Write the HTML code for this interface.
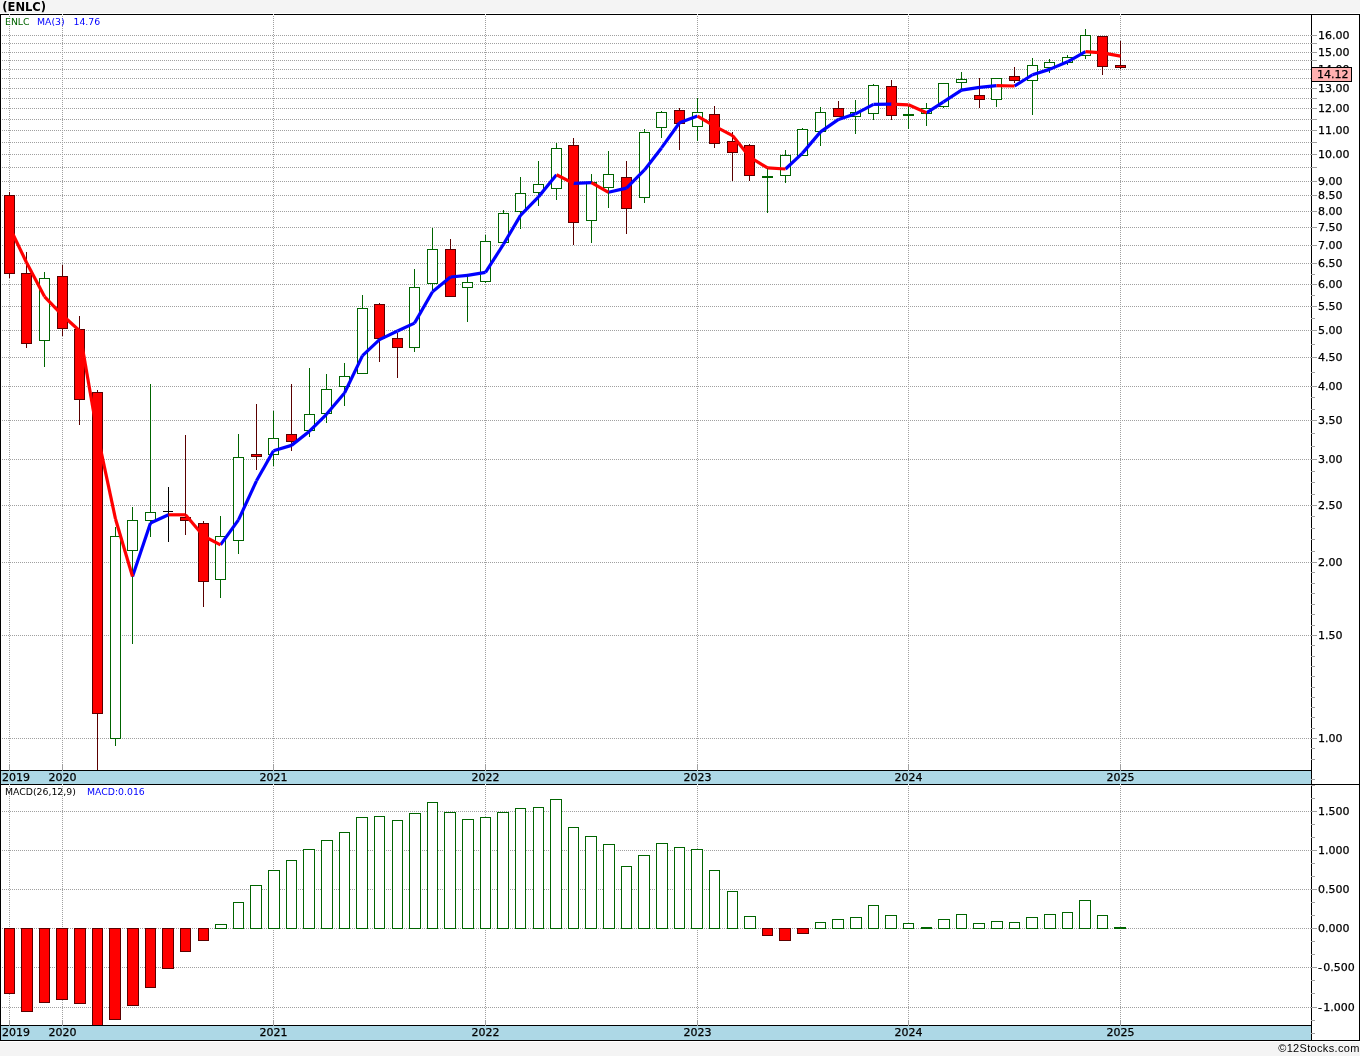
<!DOCTYPE html>
<html lang="en"><head><meta charset="utf-8"><title>(ENLC)</title>
<style>html,body{margin:0;padding:0;background:#f4f4f4}body{width:1360px;height:1056px;overflow:hidden}</style></head>
<body>
<svg width="1360" height="1056" viewBox="0 0 1360 1056" style="display:block">
<rect width="1360" height="1056" fill="#f4f4f4"/>
<rect x="0" y="13" width="1360" height="1029" fill="#fff"/>
<rect x="1" y="771" width="1310" height="13" fill="#add8e6"/>
<rect x="1" y="1026" width="1310" height="14" fill="#add8e6"/>
<g stroke="#a0a0a0" stroke-width="1" stroke-dasharray="1 1" shape-rendering="crispEdges" fill="none">
<line x1="2" y1="35.5" x2="1311" y2="35.5"/>
<line x1="2" y1="43.5" x2="1311" y2="43.5"/>
<line x1="2" y1="52.5" x2="1311" y2="52.5"/>
<line x1="2" y1="60.5" x2="1311" y2="60.5"/>
<line x1="2" y1="69.5" x2="1311" y2="69.5"/>
<line x1="2" y1="78.5" x2="1311" y2="78.5"/>
<line x1="2" y1="88.5" x2="1311" y2="88.5"/>
<line x1="2" y1="98.5" x2="1311" y2="98.5"/>
<line x1="2" y1="108.5" x2="1311" y2="108.5"/>
<line x1="2" y1="119.5" x2="1311" y2="119.5"/>
<line x1="2" y1="130.5" x2="1311" y2="130.5"/>
<line x1="2" y1="142.5" x2="1311" y2="142.5"/>
<line x1="2" y1="154.5" x2="1311" y2="154.5"/>
<line x1="2" y1="167.5" x2="1311" y2="167.5"/>
<line x1="2" y1="181.5" x2="1311" y2="181.5"/>
<line x1="2" y1="195.5" x2="1311" y2="195.5"/>
<line x1="2" y1="211.5" x2="1311" y2="211.5"/>
<line x1="2" y1="227.5" x2="1311" y2="227.5"/>
<line x1="2" y1="245.5" x2="1311" y2="245.5"/>
<line x1="2" y1="263.5" x2="1311" y2="263.5"/>
<line x1="2" y1="284.5" x2="1311" y2="284.5"/>
<line x1="2" y1="306.5" x2="1311" y2="306.5"/>
<line x1="2" y1="330.5" x2="1311" y2="330.5"/>
<line x1="2" y1="357.5" x2="1311" y2="357.5"/>
<line x1="2" y1="386.5" x2="1311" y2="386.5"/>
<line x1="2" y1="420.5" x2="1311" y2="420.5"/>
<line x1="2" y1="459.5" x2="1311" y2="459.5"/>
<line x1="2" y1="505.5" x2="1311" y2="505.5"/>
<line x1="2" y1="562.5" x2="1311" y2="562.5"/>
<line x1="2" y1="635.5" x2="1311" y2="635.5"/>
<line x1="2" y1="738.5" x2="1311" y2="738.5"/>
<line x1="2" y1="811.5" x2="1311" y2="811.5"/>
<line x1="2" y1="850.5" x2="1311" y2="850.5"/>
<line x1="2" y1="889.5" x2="1311" y2="889.5"/>
<line x1="2" y1="928.5" x2="1311" y2="928.5"/>
<line x1="2" y1="967.5" x2="1311" y2="967.5"/>
<line x1="2" y1="1007.5" x2="1311" y2="1007.5"/>
<line x1="9.5" y1="16" x2="9.5" y2="764"/>
<line x1="9.5" y1="786" x2="9.5" y2="1020"/>
<line x1="62.5" y1="16" x2="62.5" y2="764"/>
<line x1="62.5" y1="786" x2="62.5" y2="1020"/>
<line x1="273.5" y1="16" x2="273.5" y2="764"/>
<line x1="273.5" y1="786" x2="273.5" y2="1020"/>
<line x1="485.5" y1="16" x2="485.5" y2="764"/>
<line x1="485.5" y1="786" x2="485.5" y2="1020"/>
<line x1="697.5" y1="16" x2="697.5" y2="764"/>
<line x1="697.5" y1="786" x2="697.5" y2="1020"/>
<line x1="908.5" y1="16" x2="908.5" y2="764"/>
<line x1="908.5" y1="786" x2="908.5" y2="1020"/>
<line x1="1120.5" y1="16" x2="1120.5" y2="764"/>
<line x1="1120.5" y1="786" x2="1120.5" y2="1020"/>
</g>
<g shape-rendering="crispEdges" stroke-width="1">
<line x1="9.5" y1="192" x2="9.5" y2="278" stroke="#5a0000"/>
<rect x="4.5" y="195.5" width="10" height="78.0" fill="#ff0000" stroke="#5a0000"/>
<line x1="26.5" y1="252" x2="26.5" y2="348" stroke="#5a0000"/>
<rect x="21.5" y="273.5" width="10" height="70.0" fill="#ff0000" stroke="#5a0000"/>
<line x1="44.5" y1="272" x2="44.5" y2="367" stroke="#006400"/>
<rect x="39.5" y="278.5" width="10" height="62.0" fill="#fff" stroke="#006400"/>
<line x1="62.5" y1="265" x2="62.5" y2="336" stroke="#5a0000"/>
<rect x="57.5" y="276.5" width="10" height="52.0" fill="#ff0000" stroke="#5a0000"/>
<line x1="79.5" y1="316" x2="79.5" y2="425" stroke="#5a0000"/>
<rect x="74.5" y="329.5" width="10" height="70.0" fill="#ff0000" stroke="#5a0000"/>
<line x1="97.5" y1="390" x2="97.5" y2="770" stroke="#5a0000"/>
<rect x="92.5" y="392.5" width="10" height="321.0" fill="#ff0000" stroke="#5a0000"/>
<line x1="115.5" y1="527" x2="115.5" y2="746" stroke="#006400"/>
<rect x="110.5" y="536.5" width="10" height="202.0" fill="#fff" stroke="#006400"/>
<line x1="132.5" y1="507" x2="132.5" y2="644" stroke="#006400"/>
<rect x="127.5" y="520.5" width="10" height="30.0" fill="#fff" stroke="#006400"/>
<line x1="150.5" y1="384" x2="150.5" y2="537" stroke="#006400"/>
<rect x="145.5" y="512.5" width="10" height="8.0" fill="#fff" stroke="#006400"/>
<line x1="168.5" y1="487" x2="168.5" y2="542" stroke="#000"/>
<line x1="163.0" y1="511.5" x2="173.0" y2="511.5" stroke="#000"/>
<line x1="185.5" y1="435" x2="185.5" y2="535" stroke="#5a0000"/>
<rect x="180.5" y="517.5" width="10" height="3.0" fill="#ff0000" stroke="#5a0000"/>
<line x1="203.5" y1="521" x2="203.5" y2="607" stroke="#5a0000"/>
<rect x="198.5" y="523.5" width="10" height="58.0" fill="#ff0000" stroke="#5a0000"/>
<line x1="220.5" y1="516" x2="220.5" y2="598" stroke="#006400"/>
<rect x="215.5" y="536.5" width="10" height="43.0" fill="#fff" stroke="#006400"/>
<line x1="238.5" y1="434" x2="238.5" y2="554" stroke="#006400"/>
<rect x="233.5" y="457.5" width="10" height="83.0" fill="#fff" stroke="#006400"/>
<line x1="256.5" y1="404" x2="256.5" y2="470" stroke="#5a0000"/>
<rect x="251.5" y="454.5" width="10" height="2.0" fill="#ff0000" stroke="#5a0000"/>
<line x1="273.5" y1="411" x2="273.5" y2="466" stroke="#006400"/>
<rect x="268.5" y="438.5" width="10" height="16.0" fill="#fff" stroke="#006400"/>
<line x1="291.5" y1="384" x2="291.5" y2="451" stroke="#5a0000"/>
<rect x="286.5" y="434.5" width="10" height="7.0" fill="#ff0000" stroke="#5a0000"/>
<line x1="309.5" y1="368" x2="309.5" y2="437" stroke="#006400"/>
<rect x="304.5" y="414.5" width="10" height="16.0" fill="#fff" stroke="#006400"/>
<line x1="326.5" y1="374" x2="326.5" y2="423" stroke="#006400"/>
<rect x="321.5" y="389.5" width="10" height="24.0" fill="#fff" stroke="#006400"/>
<line x1="344.5" y1="363" x2="344.5" y2="406" stroke="#006400"/>
<rect x="339.5" y="376.5" width="10" height="10.0" fill="#fff" stroke="#006400"/>
<line x1="362.5" y1="295" x2="362.5" y2="373" stroke="#006400"/>
<rect x="357.5" y="308.5" width="10" height="65.0" fill="#fff" stroke="#006400"/>
<line x1="379.5" y1="303" x2="379.5" y2="362" stroke="#5a0000"/>
<rect x="374.5" y="304.5" width="10" height="34.0" fill="#ff0000" stroke="#5a0000"/>
<line x1="397.5" y1="333" x2="397.5" y2="378" stroke="#5a0000"/>
<rect x="392.5" y="338.5" width="10" height="9.0" fill="#ff0000" stroke="#5a0000"/>
<line x1="414.5" y1="269" x2="414.5" y2="352" stroke="#006400"/>
<rect x="409.5" y="287.5" width="10" height="60.0" fill="#fff" stroke="#006400"/>
<line x1="432.5" y1="228" x2="432.5" y2="290" stroke="#006400"/>
<rect x="427.5" y="249.5" width="10" height="34.0" fill="#fff" stroke="#006400"/>
<line x1="450.5" y1="239" x2="450.5" y2="297" stroke="#5a0000"/>
<rect x="445.5" y="249.5" width="10" height="47.0" fill="#ff0000" stroke="#5a0000"/>
<line x1="467.5" y1="274" x2="467.5" y2="322" stroke="#006400"/>
<rect x="462.5" y="282.5" width="10" height="5.0" fill="#fff" stroke="#006400"/>
<line x1="485.5" y1="235" x2="485.5" y2="283" stroke="#006400"/>
<rect x="480.5" y="241.5" width="10" height="40.0" fill="#fff" stroke="#006400"/>
<line x1="503.5" y1="210" x2="503.5" y2="243" stroke="#006400"/>
<rect x="498.5" y="213.5" width="10" height="29.0" fill="#fff" stroke="#006400"/>
<line x1="520.5" y1="177" x2="520.5" y2="229" stroke="#006400"/>
<rect x="515.5" y="193.5" width="10" height="18.0" fill="#fff" stroke="#006400"/>
<line x1="538.5" y1="161" x2="538.5" y2="206" stroke="#006400"/>
<rect x="533.5" y="184.5" width="10" height="8.0" fill="#fff" stroke="#006400"/>
<line x1="556.5" y1="143" x2="556.5" y2="200" stroke="#006400"/>
<rect x="551.5" y="148.5" width="10" height="40.0" fill="#fff" stroke="#006400"/>
<line x1="573.5" y1="138" x2="573.5" y2="245" stroke="#5a0000"/>
<rect x="568.5" y="145.5" width="10" height="77.0" fill="#ff0000" stroke="#5a0000"/>
<line x1="591.5" y1="174" x2="591.5" y2="243" stroke="#006400"/>
<rect x="586.5" y="182.5" width="10" height="38.0" fill="#fff" stroke="#006400"/>
<line x1="608.5" y1="151" x2="608.5" y2="208" stroke="#006400"/>
<rect x="603.5" y="174.5" width="10" height="13.0" fill="#fff" stroke="#006400"/>
<line x1="626.5" y1="161" x2="626.5" y2="234" stroke="#5a0000"/>
<rect x="621.5" y="177.5" width="10" height="31.0" fill="#ff0000" stroke="#5a0000"/>
<line x1="644.5" y1="129" x2="644.5" y2="203" stroke="#006400"/>
<rect x="639.5" y="132.5" width="10" height="65.0" fill="#fff" stroke="#006400"/>
<line x1="661.5" y1="111" x2="661.5" y2="138" stroke="#006400"/>
<rect x="656.5" y="112.5" width="10" height="15.0" fill="#fff" stroke="#006400"/>
<line x1="679.5" y1="108" x2="679.5" y2="150" stroke="#5a0000"/>
<rect x="674.5" y="110.5" width="10" height="13.0" fill="#ff0000" stroke="#5a0000"/>
<line x1="697.5" y1="98" x2="697.5" y2="141" stroke="#006400"/>
<rect x="692.5" y="112.5" width="10" height="14.0" fill="#fff" stroke="#006400"/>
<line x1="714.5" y1="106" x2="714.5" y2="148" stroke="#5a0000"/>
<rect x="709.5" y="114.5" width="10" height="29.0" fill="#ff0000" stroke="#5a0000"/>
<line x1="732.5" y1="132" x2="732.5" y2="181" stroke="#5a0000"/>
<rect x="727.5" y="141.5" width="10" height="11.0" fill="#ff0000" stroke="#5a0000"/>
<line x1="749.5" y1="144" x2="749.5" y2="181" stroke="#5a0000"/>
<rect x="744.5" y="145.5" width="10" height="30.0" fill="#ff0000" stroke="#5a0000"/>
<line x1="767.5" y1="168" x2="767.5" y2="213" stroke="#006400"/>
<rect x="762.5" y="176.5" width="10" height="1.0" fill="#fff" stroke="#006400"/>
<line x1="785.5" y1="150" x2="785.5" y2="183" stroke="#006400"/>
<rect x="780.5" y="155.5" width="10" height="20.0" fill="#fff" stroke="#006400"/>
<line x1="802.5" y1="128" x2="802.5" y2="156" stroke="#006400"/>
<rect x="797.5" y="129.5" width="10" height="26.0" fill="#fff" stroke="#006400"/>
<line x1="820.5" y1="107" x2="820.5" y2="146" stroke="#006400"/>
<rect x="815.5" y="112.5" width="10" height="19.0" fill="#fff" stroke="#006400"/>
<line x1="838.5" y1="101" x2="838.5" y2="117" stroke="#5a0000"/>
<rect x="833.5" y="108.5" width="10" height="8.0" fill="#ff0000" stroke="#5a0000"/>
<line x1="855.5" y1="100" x2="855.5" y2="134" stroke="#006400"/>
<rect x="850.5" y="112.5" width="10" height="4.0" fill="#fff" stroke="#006400"/>
<line x1="873.5" y1="84" x2="873.5" y2="120" stroke="#006400"/>
<rect x="868.5" y="85.5" width="10" height="28.0" fill="#fff" stroke="#006400"/>
<line x1="891.5" y1="80" x2="891.5" y2="120" stroke="#5a0000"/>
<rect x="886.5" y="86.5" width="10" height="29.0" fill="#ff0000" stroke="#5a0000"/>
<line x1="908.5" y1="106" x2="908.5" y2="129" stroke="#006400"/>
<rect x="903.5" y="114.5" width="10" height="1.0" fill="#fff" stroke="#006400"/>
<line x1="926.5" y1="103" x2="926.5" y2="126" stroke="#006400"/>
<rect x="921.5" y="108.5" width="10" height="5.0" fill="#fff" stroke="#006400"/>
<line x1="943.5" y1="84" x2="943.5" y2="108" stroke="#006400"/>
<rect x="938.5" y="83.5" width="10" height="23.0" fill="#fff" stroke="#006400"/>
<line x1="961.5" y1="72" x2="961.5" y2="90" stroke="#006400"/>
<rect x="956.5" y="79.5" width="10" height="3.0" fill="#fff" stroke="#006400"/>
<line x1="979.5" y1="78" x2="979.5" y2="108" stroke="#5a0000"/>
<rect x="974.5" y="95.5" width="10" height="4.0" fill="#ff0000" stroke="#5a0000"/>
<line x1="996.5" y1="79" x2="996.5" y2="107" stroke="#006400"/>
<rect x="991.5" y="78.5" width="10" height="21.0" fill="#fff" stroke="#006400"/>
<line x1="1014.5" y1="67" x2="1014.5" y2="83" stroke="#5a0000"/>
<rect x="1009.5" y="76.5" width="10" height="4.0" fill="#ff0000" stroke="#5a0000"/>
<line x1="1032.5" y1="58" x2="1032.5" y2="115" stroke="#006400"/>
<rect x="1027.5" y="65.5" width="10" height="15.0" fill="#fff" stroke="#006400"/>
<line x1="1049.5" y1="59" x2="1049.5" y2="73" stroke="#006400"/>
<rect x="1044.5" y="62.5" width="10" height="5.0" fill="#fff" stroke="#006400"/>
<line x1="1067.5" y1="55" x2="1067.5" y2="65" stroke="#006400"/>
<rect x="1062.5" y="57.5" width="10" height="5.0" fill="#fff" stroke="#006400"/>
<line x1="1085.5" y1="29" x2="1085.5" y2="59" stroke="#006400"/>
<rect x="1080.5" y="35.5" width="10" height="20.0" fill="#fff" stroke="#006400"/>
<line x1="1102.5" y1="37" x2="1102.5" y2="75" stroke="#5a0000"/>
<rect x="1097.5" y="36.5" width="10" height="30.0" fill="#ff0000" stroke="#5a0000"/>
<line x1="1120.5" y1="41" x2="1120.5" y2="69" stroke="#5a0000"/>
<rect x="1115.5" y="65.5" width="10" height="2.0" fill="#ff0000" stroke="#5a0000"/>
</g>
<g shape-rendering="crispEdges" stroke-width="1">
<rect x="4.5" y="928.5" width="10" height="65.0" fill="#ff0000" stroke="#5a0000"/>
<rect x="21.5" y="928.5" width="11" height="83.0" fill="#ff0000" stroke="#5a0000"/>
<rect x="39.5" y="928.5" width="10" height="74.0" fill="#ff0000" stroke="#5a0000"/>
<rect x="56.5" y="928.5" width="11" height="71.0" fill="#ff0000" stroke="#5a0000"/>
<rect x="74.5" y="928.5" width="11" height="75.0" fill="#ff0000" stroke="#5a0000"/>
<rect x="92.5" y="928.5" width="10" height="97.0" fill="#ff0000" stroke="#5a0000"/>
<rect x="109.5" y="928.5" width="11" height="91.0" fill="#ff0000" stroke="#5a0000"/>
<rect x="127.5" y="928.5" width="11" height="77.0" fill="#ff0000" stroke="#5a0000"/>
<rect x="145.5" y="928.5" width="10" height="59.0" fill="#ff0000" stroke="#5a0000"/>
<rect x="162.5" y="928.5" width="11" height="40.0" fill="#ff0000" stroke="#5a0000"/>
<rect x="180.5" y="928.5" width="10" height="23.0" fill="#ff0000" stroke="#5a0000"/>
<rect x="198.5" y="928.5" width="10" height="12.0" fill="#ff0000" stroke="#5a0000"/>
<rect x="215.5" y="924.5" width="11" height="4.0" fill="#fff" stroke="#006400"/>
<rect x="233.5" y="902.5" width="10" height="26.0" fill="#fff" stroke="#006400"/>
<rect x="250.5" y="885.5" width="11" height="43.0" fill="#fff" stroke="#006400"/>
<rect x="268.5" y="870.5" width="11" height="58.0" fill="#fff" stroke="#006400"/>
<rect x="286.5" y="860.5" width="10" height="68.0" fill="#fff" stroke="#006400"/>
<rect x="303.5" y="849.5" width="11" height="79.0" fill="#fff" stroke="#006400"/>
<rect x="321.5" y="840.5" width="11" height="88.0" fill="#fff" stroke="#006400"/>
<rect x="339.5" y="832.5" width="10" height="96.0" fill="#fff" stroke="#006400"/>
<rect x="356.5" y="817.5" width="11" height="111.0" fill="#fff" stroke="#006400"/>
<rect x="374.5" y="816.5" width="10" height="112.0" fill="#fff" stroke="#006400"/>
<rect x="392.5" y="820.5" width="10" height="108.0" fill="#fff" stroke="#006400"/>
<rect x="409.5" y="813.5" width="11" height="115.0" fill="#fff" stroke="#006400"/>
<rect x="427.5" y="802.5" width="10" height="126.0" fill="#fff" stroke="#006400"/>
<rect x="444.5" y="812.5" width="11" height="116.0" fill="#fff" stroke="#006400"/>
<rect x="462.5" y="819.5" width="11" height="109.0" fill="#fff" stroke="#006400"/>
<rect x="480.5" y="817.5" width="10" height="111.0" fill="#fff" stroke="#006400"/>
<rect x="497.5" y="812.5" width="11" height="116.0" fill="#fff" stroke="#006400"/>
<rect x="515.5" y="808.5" width="10" height="120.0" fill="#fff" stroke="#006400"/>
<rect x="533.5" y="807.5" width="10" height="121.0" fill="#fff" stroke="#006400"/>
<rect x="550.5" y="799.5" width="11" height="129.0" fill="#fff" stroke="#006400"/>
<rect x="568.5" y="827.5" width="10" height="101.0" fill="#fff" stroke="#006400"/>
<rect x="585.5" y="836.5" width="11" height="92.0" fill="#fff" stroke="#006400"/>
<rect x="603.5" y="844.5" width="11" height="84.0" fill="#fff" stroke="#006400"/>
<rect x="621.5" y="866.5" width="10" height="62.0" fill="#fff" stroke="#006400"/>
<rect x="638.5" y="855.5" width="11" height="73.0" fill="#fff" stroke="#006400"/>
<rect x="656.5" y="843.5" width="11" height="85.0" fill="#fff" stroke="#006400"/>
<rect x="674.5" y="847.5" width="10" height="81.0" fill="#fff" stroke="#006400"/>
<rect x="691.5" y="849.5" width="11" height="79.0" fill="#fff" stroke="#006400"/>
<rect x="709.5" y="870.5" width="10" height="58.0" fill="#fff" stroke="#006400"/>
<rect x="727.5" y="891.5" width="10" height="37.0" fill="#fff" stroke="#006400"/>
<rect x="744.5" y="916.5" width="11" height="12.0" fill="#fff" stroke="#006400"/>
<rect x="762.5" y="928.5" width="10" height="7.0" fill="#ff0000" stroke="#5a0000"/>
<rect x="779.5" y="928.5" width="11" height="12.0" fill="#ff0000" stroke="#5a0000"/>
<rect x="797.5" y="928.5" width="11" height="5.0" fill="#ff0000" stroke="#5a0000"/>
<rect x="815.5" y="922.5" width="10" height="6.0" fill="#fff" stroke="#006400"/>
<rect x="832.5" y="919.5" width="11" height="9.0" fill="#fff" stroke="#006400"/>
<rect x="850.5" y="917.5" width="11" height="11.0" fill="#fff" stroke="#006400"/>
<rect x="868.5" y="905.5" width="10" height="23.0" fill="#fff" stroke="#006400"/>
<rect x="885.5" y="915.5" width="11" height="13.0" fill="#fff" stroke="#006400"/>
<rect x="903.5" y="923.5" width="10" height="5.0" fill="#fff" stroke="#006400"/>
<rect x="921" y="927.0" width="11" height="2" fill="#006400" stroke="none"/>
<rect x="938.5" y="919.5" width="11" height="9.0" fill="#fff" stroke="#006400"/>
<rect x="956.5" y="914.5" width="10" height="14.0" fill="#fff" stroke="#006400"/>
<rect x="973.5" y="923.5" width="11" height="5.0" fill="#fff" stroke="#006400"/>
<rect x="991.5" y="921.5" width="11" height="7.0" fill="#fff" stroke="#006400"/>
<rect x="1009.5" y="922.5" width="10" height="6.0" fill="#fff" stroke="#006400"/>
<rect x="1026.5" y="917.5" width="11" height="11.0" fill="#fff" stroke="#006400"/>
<rect x="1044.5" y="914.5" width="11" height="14.0" fill="#fff" stroke="#006400"/>
<rect x="1062.5" y="912.5" width="10" height="16.0" fill="#fff" stroke="#006400"/>
<rect x="1079.5" y="900.5" width="11" height="28.0" fill="#fff" stroke="#006400"/>
<rect x="1097.5" y="915.5" width="10" height="13.0" fill="#fff" stroke="#006400"/>
<rect x="1114" y="927.0" width="12" height="2" fill="#006400" stroke="none"/>
</g>
<g stroke-width="3.2" stroke-linecap="butt" fill="none">
<line x1="132.5" y1="576.44" x2="150.5" y2="522.97" stroke="#0000ff"/>
<line x1="150.5" y1="522.97" x2="168.5" y2="514.8" stroke="#0000ff"/>
<line x1="220.5" y1="544.87" x2="238.5" y2="519.9" stroke="#0000ff"/>
<line x1="238.5" y1="519.9" x2="256.5" y2="480.83" stroke="#0000ff"/>
<line x1="256.5" y1="480.83" x2="273.5" y2="450.68" stroke="#0000ff"/>
<line x1="273.5" y1="450.68" x2="291.5" y2="445.38" stroke="#0000ff"/>
<line x1="291.5" y1="445.38" x2="309.5" y2="431.21" stroke="#0000ff"/>
<line x1="309.5" y1="431.21" x2="326.5" y2="414.28" stroke="#0000ff"/>
<line x1="326.5" y1="414.28" x2="344.5" y2="393.01" stroke="#0000ff"/>
<line x1="344.5" y1="393.01" x2="362.5" y2="355.61" stroke="#0000ff"/>
<line x1="362.5" y1="355.61" x2="379.5" y2="339.65" stroke="#0000ff"/>
<line x1="379.5" y1="339.65" x2="397.5" y2="330.94" stroke="#0000ff"/>
<line x1="397.5" y1="330.94" x2="414.5" y2="323.09" stroke="#0000ff"/>
<line x1="414.5" y1="323.09" x2="432.5" y2="291.68" stroke="#0000ff"/>
<line x1="432.5" y1="291.68" x2="450.5" y2="277.0" stroke="#0000ff"/>
<line x1="450.5" y1="277.0" x2="467.5" y2="275.39" stroke="#0000ff"/>
<line x1="467.5" y1="275.39" x2="485.5" y2="272.41" stroke="#0000ff"/>
<line x1="485.5" y1="272.41" x2="503.5" y2="244.26" stroke="#0000ff"/>
<line x1="503.5" y1="244.26" x2="520.5" y2="215.41" stroke="#0000ff"/>
<line x1="520.5" y1="215.41" x2="538.5" y2="196.88" stroke="#0000ff"/>
<line x1="538.5" y1="196.88" x2="556.5" y2="174.74" stroke="#0000ff"/>
<line x1="573.5" y1="183.37" x2="591.5" y2="182.71" stroke="#0000ff"/>
<line x1="608.5" y1="192.31" x2="626.5" y2="188.09" stroke="#0000ff"/>
<line x1="626.5" y1="188.09" x2="644.5" y2="169.92" stroke="#0000ff"/>
<line x1="644.5" y1="169.92" x2="661.5" y2="147.91" stroke="#0000ff"/>
<line x1="661.5" y1="147.91" x2="679.5" y2="122.7" stroke="#0000ff"/>
<line x1="679.5" y1="122.7" x2="697.5" y2="116.11" stroke="#0000ff"/>
<line x1="785.5" y1="168.98" x2="802.5" y2="153.1" stroke="#0000ff"/>
<line x1="802.5" y1="153.1" x2="820.5" y2="131.89" stroke="#0000ff"/>
<line x1="820.5" y1="131.89" x2="838.5" y2="119.4" stroke="#0000ff"/>
<line x1="838.5" y1="119.4" x2="855.5" y2="113.83" stroke="#0000ff"/>
<line x1="855.5" y1="113.83" x2="873.5" y2="104.45" stroke="#0000ff"/>
<line x1="873.5" y1="104.45" x2="891.5" y2="104.14" stroke="#0000ff"/>
<line x1="926.5" y1="112.81" x2="943.5" y2="101.81" stroke="#0000ff"/>
<line x1="943.5" y1="101.81" x2="961.5" y2="90.18" stroke="#0000ff"/>
<line x1="961.5" y1="90.18" x2="979.5" y2="87.35" stroke="#0000ff"/>
<line x1="979.5" y1="87.35" x2="996.5" y2="85.65" stroke="#0000ff"/>
<line x1="1014.5" y1="85.99" x2="1032.5" y2="74.75" stroke="#0000ff"/>
<line x1="1032.5" y1="74.75" x2="1049.5" y2="69.38" stroke="#0000ff"/>
<line x1="1049.5" y1="69.38" x2="1067.5" y2="61.81" stroke="#0000ff"/>
<line x1="1067.5" y1="61.81" x2="1085.5" y2="51.56" stroke="#0000ff"/>
<line x1="9.5" y1="227" x2="26.5" y2="262.5" stroke="#ff0000"/>
<line x1="26.5" y1="262.5" x2="44.5" y2="296.56" stroke="#ff0000"/>
<line x1="44.5" y1="296.56" x2="62.5" y2="315.28" stroke="#ff0000"/>
<line x1="62.5" y1="315.28" x2="79.5" y2="330.72" stroke="#ff0000"/>
<line x1="79.5" y1="330.72" x2="97.5" y2="434.49" stroke="#ff0000"/>
<line x1="97.5" y1="434.49" x2="115.5" y2="519.0" stroke="#ff0000"/>
<line x1="115.5" y1="519.0" x2="132.5" y2="576.44" stroke="#ff0000"/>
<line x1="168.5" y1="514.8" x2="185.5" y2="514.8" stroke="#ff0000"/>
<line x1="185.5" y1="514.8" x2="203.5" y2="535.98" stroke="#ff0000"/>
<line x1="203.5" y1="535.98" x2="220.5" y2="544.87" stroke="#ff0000"/>
<line x1="556.5" y1="174.74" x2="573.5" y2="183.37" stroke="#ff0000"/>
<line x1="591.5" y1="182.71" x2="608.5" y2="192.31" stroke="#ff0000"/>
<line x1="697.5" y1="116.11" x2="714.5" y2="126.18" stroke="#ff0000"/>
<line x1="714.5" y1="126.18" x2="732.5" y2="135.58" stroke="#ff0000"/>
<line x1="732.5" y1="135.58" x2="749.5" y2="156.81" stroke="#ff0000"/>
<line x1="749.5" y1="156.81" x2="767.5" y2="167.92" stroke="#ff0000"/>
<line x1="767.5" y1="167.92" x2="785.5" y2="168.98" stroke="#ff0000"/>
<line x1="891.5" y1="104.14" x2="908.5" y2="104.78" stroke="#ff0000"/>
<line x1="908.5" y1="104.78" x2="926.5" y2="112.81" stroke="#ff0000"/>
<line x1="996.5" y1="85.65" x2="1014.5" y2="85.99" stroke="#ff0000"/>
<line x1="1085.5" y1="51.56" x2="1102.5" y2="52.83" stroke="#ff0000"/>
<line x1="1102.5" y1="52.83" x2="1120.5" y2="56.06" stroke="#ff0000" stroke-linecap="butt"/>
</g>
<g shape-rendering="crispEdges" fill="#000">
<rect x="0" y="14" width="1360" height="1"/>
<rect x="0" y="14" width="1" height="1027"/>
<rect x="1359" y="14" width="1" height="1027"/>
<rect x="0" y="1040" width="1360" height="1"/>
<rect x="0" y="770" width="1312" height="1"/>
<rect x="0" y="784" width="1360" height="1"/>
<rect x="0" y="1025" width="1312" height="1"/>
<rect x="1311" y="14" width="1" height="1027"/>
</g>
<g stroke="#a0a0a0" stroke-width="1" shape-rendering="crispEdges">
<line x1="9.5" y1="764" x2="9.5" y2="771"/>
<line x1="9.5" y1="1020" x2="9.5" y2="1026"/>
<line x1="9.5" y1="14" x2="9.5" y2="15" stroke="#e0e0e0"/>
<line x1="9.5" y1="784" x2="9.5" y2="785" stroke="#e0e0e0"/>
<line x1="62.5" y1="764" x2="62.5" y2="771"/>
<line x1="62.5" y1="1020" x2="62.5" y2="1026"/>
<line x1="62.5" y1="14" x2="62.5" y2="15" stroke="#e0e0e0"/>
<line x1="62.5" y1="784" x2="62.5" y2="785" stroke="#e0e0e0"/>
<line x1="273.5" y1="764" x2="273.5" y2="771"/>
<line x1="273.5" y1="1020" x2="273.5" y2="1026"/>
<line x1="273.5" y1="14" x2="273.5" y2="15" stroke="#e0e0e0"/>
<line x1="273.5" y1="784" x2="273.5" y2="785" stroke="#e0e0e0"/>
<line x1="485.5" y1="764" x2="485.5" y2="771"/>
<line x1="485.5" y1="1020" x2="485.5" y2="1026"/>
<line x1="485.5" y1="14" x2="485.5" y2="15" stroke="#e0e0e0"/>
<line x1="485.5" y1="784" x2="485.5" y2="785" stroke="#e0e0e0"/>
<line x1="697.5" y1="764" x2="697.5" y2="771"/>
<line x1="697.5" y1="1020" x2="697.5" y2="1026"/>
<line x1="697.5" y1="14" x2="697.5" y2="15" stroke="#e0e0e0"/>
<line x1="697.5" y1="784" x2="697.5" y2="785" stroke="#e0e0e0"/>
<line x1="908.5" y1="764" x2="908.5" y2="771"/>
<line x1="908.5" y1="1020" x2="908.5" y2="1026"/>
<line x1="908.5" y1="14" x2="908.5" y2="15" stroke="#e0e0e0"/>
<line x1="908.5" y1="784" x2="908.5" y2="785" stroke="#e0e0e0"/>
<line x1="1120.5" y1="764" x2="1120.5" y2="771"/>
<line x1="1120.5" y1="1020" x2="1120.5" y2="1026"/>
<line x1="1120.5" y1="14" x2="1120.5" y2="15" stroke="#e0e0e0"/>
<line x1="1120.5" y1="784" x2="1120.5" y2="785" stroke="#e0e0e0"/>
<line x1="1310" y1="35.5" x2="1317" y2="35.5"/>
<line x1="1310" y1="43.5" x2="1317" y2="43.5"/>
<line x1="1310" y1="52.5" x2="1317" y2="52.5"/>
<line x1="1310" y1="60.5" x2="1317" y2="60.5"/>
<line x1="1310" y1="69.5" x2="1317" y2="69.5"/>
<line x1="1310" y1="78.5" x2="1317" y2="78.5"/>
<line x1="1310" y1="88.5" x2="1317" y2="88.5"/>
<line x1="1310" y1="98.5" x2="1317" y2="98.5"/>
<line x1="1310" y1="108.5" x2="1317" y2="108.5"/>
<line x1="1310" y1="119.5" x2="1317" y2="119.5"/>
<line x1="1310" y1="130.5" x2="1317" y2="130.5"/>
<line x1="1310" y1="142.5" x2="1317" y2="142.5"/>
<line x1="1310" y1="154.5" x2="1317" y2="154.5"/>
<line x1="1310" y1="167.5" x2="1317" y2="167.5"/>
<line x1="1310" y1="181.5" x2="1317" y2="181.5"/>
<line x1="1310" y1="195.5" x2="1317" y2="195.5"/>
<line x1="1310" y1="211.5" x2="1317" y2="211.5"/>
<line x1="1310" y1="227.5" x2="1317" y2="227.5"/>
<line x1="1310" y1="245.5" x2="1317" y2="245.5"/>
<line x1="1310" y1="263.5" x2="1317" y2="263.5"/>
<line x1="1310" y1="284.5" x2="1317" y2="284.5"/>
<line x1="1310" y1="306.5" x2="1317" y2="306.5"/>
<line x1="1310" y1="330.5" x2="1317" y2="330.5"/>
<line x1="1310" y1="357.5" x2="1317" y2="357.5"/>
<line x1="1310" y1="386.5" x2="1317" y2="386.5"/>
<line x1="1310" y1="420.5" x2="1317" y2="420.5"/>
<line x1="1310" y1="459.5" x2="1317" y2="459.5"/>
<line x1="1310" y1="505.5" x2="1317" y2="505.5"/>
<line x1="1310" y1="562.5" x2="1317" y2="562.5"/>
<line x1="1310" y1="635.5" x2="1317" y2="635.5"/>
<line x1="1310" y1="738.5" x2="1317" y2="738.5"/>
<line x1="1311" y1="274.5" x2="1315" y2="274.5"/>
<line x1="1311" y1="295.5" x2="1315" y2="295.5"/>
<line x1="1311" y1="318.5" x2="1315" y2="318.5"/>
<line x1="1311" y1="344.5" x2="1315" y2="344.5"/>
<line x1="1311" y1="372.5" x2="1315" y2="372.5"/>
<line x1="1311" y1="397.5" x2="1315" y2="397.5"/>
<line x1="1311" y1="409.5" x2="1315" y2="409.5"/>
<line x1="1311" y1="433.5" x2="1315" y2="433.5"/>
<line x1="1311" y1="446.5" x2="1315" y2="446.5"/>
<line x1="1311" y1="471.5" x2="1315" y2="471.5"/>
<line x1="1311" y1="482.5" x2="1315" y2="482.5"/>
<line x1="1311" y1="494.5" x2="1315" y2="494.5"/>
<line x1="1311" y1="516.5" x2="1315" y2="516.5"/>
<line x1="1311" y1="528.5" x2="1315" y2="528.5"/>
<line x1="1311" y1="539.5" x2="1315" y2="539.5"/>
<line x1="1311" y1="551.5" x2="1315" y2="551.5"/>
<line x1="1311" y1="572.5" x2="1315" y2="572.5"/>
<line x1="1311" y1="583.5" x2="1315" y2="583.5"/>
<line x1="1311" y1="593.5" x2="1315" y2="593.5"/>
<line x1="1311" y1="604.5" x2="1315" y2="604.5"/>
<line x1="1311" y1="614.5" x2="1315" y2="614.5"/>
<line x1="1311" y1="625.5" x2="1315" y2="625.5"/>
<line x1="1311" y1="645.5" x2="1315" y2="645.5"/>
<line x1="1311" y1="656.5" x2="1315" y2="656.5"/>
<line x1="1311" y1="666.5" x2="1315" y2="666.5"/>
<line x1="1311" y1="676.5" x2="1315" y2="676.5"/>
<line x1="1311" y1="687.5" x2="1315" y2="687.5"/>
<line x1="1311" y1="697.5" x2="1315" y2="697.5"/>
<line x1="1311" y1="707.5" x2="1315" y2="707.5"/>
<line x1="1311" y1="717.5" x2="1315" y2="717.5"/>
<line x1="1311" y1="728.5" x2="1315" y2="728.5"/>
<line x1="1311" y1="748.5" x2="1315" y2="748.5"/>
<line x1="1311" y1="759.5" x2="1315" y2="759.5"/>
<line x1="1311" y1="779.5" x2="1315" y2="779.5"/>
<line x1="1310" y1="811.5" x2="1317" y2="811.5"/>
<line x1="1310" y1="850.5" x2="1317" y2="850.5"/>
<line x1="1310" y1="889.5" x2="1317" y2="889.5"/>
<line x1="1310" y1="928.5" x2="1317" y2="928.5"/>
<line x1="1310" y1="967.5" x2="1317" y2="967.5"/>
<line x1="1310" y1="1007.5" x2="1317" y2="1007.5"/>
<line x1="1311" y1="785.5" x2="1315" y2="785.5"/>
<line x1="1311" y1="798.5" x2="1315" y2="798.5"/>
<line x1="1311" y1="824.5" x2="1315" y2="824.5"/>
<line x1="1311" y1="837.5" x2="1315" y2="837.5"/>
<line x1="1311" y1="863.5" x2="1315" y2="863.5"/>
<line x1="1311" y1="876.5" x2="1315" y2="876.5"/>
<line x1="1311" y1="902.5" x2="1315" y2="902.5"/>
<line x1="1311" y1="915.5" x2="1315" y2="915.5"/>
<line x1="1311" y1="941.5" x2="1315" y2="941.5"/>
<line x1="1311" y1="954.5" x2="1315" y2="954.5"/>
<line x1="1311" y1="980.5" x2="1315" y2="980.5"/>
<line x1="1311" y1="993.5" x2="1315" y2="993.5"/>
<line x1="1311" y1="1020.5" x2="1315" y2="1020.5"/>
<line x1="1311" y1="1033.5" x2="1315" y2="1033.5"/>
</g>
<g font-family="'DejaVu Sans', 'Liberation Sans', sans-serif" font-size="11" fill="#000" stroke="#000" stroke-width="0.25">
<text x="1318" y="38.5">16.00</text>
<text x="1318" y="55.5">15.00</text>
<text x="1318" y="72.5">14.00</text>
<text x="1318" y="91.5">13.00</text>
<text x="1318" y="111.5">12.00</text>
<text x="1318" y="133.5">11.00</text>
<text x="1318" y="157.5">10.00</text>
<text x="1318" y="184.5">9.00</text>
<text x="1318" y="198.5">8.50</text>
<text x="1318" y="214.5">8.00</text>
<text x="1318" y="230.5">7.50</text>
<text x="1318" y="248.5">7.00</text>
<text x="1318" y="266.5">6.50</text>
<text x="1318" y="287.5">6.00</text>
<text x="1318" y="309.5">5.50</text>
<text x="1318" y="333.5">5.00</text>
<text x="1318" y="360.5">4.50</text>
<text x="1318" y="389.5">4.00</text>
<text x="1318" y="423.5">3.50</text>
<text x="1318" y="462.5">3.00</text>
<text x="1318" y="508.5">2.50</text>
<text x="1318" y="565.5">2.00</text>
<text x="1318" y="638.5">1.50</text>
<text x="1318" y="741.5">1.00</text>
<rect x="1311.5" y="67.5" width="40" height="14" fill="#ffb0b0" stroke="#000" stroke-width="1" shape-rendering="crispEdges"/>
<text x="1317" y="78">14.12</text>
<text x="1318" y="814.5">1.500</text>
<text x="1318" y="853.5">1.000</text>
<text x="1318" y="892.5">0.500</text>
<text x="1318" y="931.5">0.000</text>
<text x="1318" y="970.5">-<tspan dx="1.2">0.500</tspan></text>
<text x="1318" y="1010.5">-<tspan dx="1.2">1.000</tspan></text>
<text x="2" y="781">2019</text>
<text x="2" y="1036">2019</text>
<text x="62.5" y="781" text-anchor="middle">2020</text>
<text x="62.5" y="1036" text-anchor="middle">2020</text>
<text x="273.5" y="781" text-anchor="middle">2021</text>
<text x="273.5" y="1036" text-anchor="middle">2021</text>
<text x="485.5" y="781" text-anchor="middle">2022</text>
<text x="485.5" y="1036" text-anchor="middle">2022</text>
<text x="697.5" y="781" text-anchor="middle">2023</text>
<text x="697.5" y="1036" text-anchor="middle">2023</text>
<text x="908.5" y="781" text-anchor="middle">2024</text>
<text x="908.5" y="1036" text-anchor="middle">2024</text>
<text x="1120.5" y="781" text-anchor="middle">2025</text>
<text x="1120.5" y="1036" text-anchor="middle">2025</text>
</g>
<text x="2.3" y="10.6" font-family="'DejaVu Sans', 'Liberation Sans', sans-serif" font-size="11.5" font-weight="bold" fill="#000">(ENLC)</text>
<g font-family="'DejaVu Sans', 'Liberation Sans', sans-serif" font-size="9.33">
<text x="5" y="25" fill="#006400">ENLC</text>
<text x="37" y="25" fill="#0000ff">MA(3)</text>
<text x="73.5" y="25" fill="#0000ff">14.76</text>
<text x="5" y="795" fill="#000">MACD(26,12,9)</text>
<text x="87" y="795" fill="#0000ff">MACD:0.016</text>
</g>
<text x="1359.7" y="1052" text-anchor="end" letter-spacing="0.33" font-family="'Liberation Sans', sans-serif" font-size="11" fill="#000">©12Stocks.com</text>
</svg>
</body></html>
